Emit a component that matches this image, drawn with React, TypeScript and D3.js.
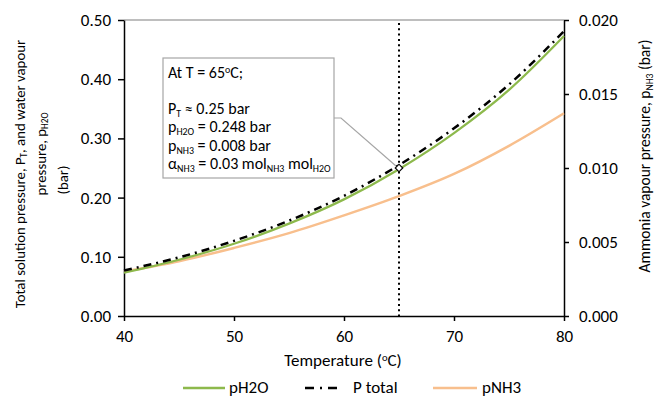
import React, { useEffect, useRef } from 'react';
import * as d3 from 'd3';

// Temperature (°C)
const temps = [40, 45, 50, 55, 60, 65, 70, 75, 80];
// water vapour pressure (bar, left axis)
const pH2O = [0.073, 0.095, 0.122, 0.156, 0.197, 0.248, 0.309, 0.382, 0.473];
// total solution pressure (bar, left axis)
const pTotal = [0.077, 0.099, 0.127, 0.161, 0.203, 0.255, 0.317, 0.391, 0.481];
// ammonia vapour pressure (bar, right axis)
const pNH3 = [0.003, 0.0037, 0.0046, 0.0056, 0.0068, 0.0081, 0.0096, 0.0115, 0.0137];

const xTicks = [40, 50, 60, 70, 80];
const leftTicks = [0, 0.1, 0.2, 0.3, 0.4, 0.5];
const rightTicks = [0, 0.005, 0.01, 0.015, 0.02];

const markT = 65;
const markP = 0.25;

type Seg = { t: string; sub?: boolean; sup?: boolean };

const FONT = "Carlito, Calibri, Lato, 'Liberation Sans', sans-serif";
const FS = 17;

const Chart = () => {
  const svgRef = useRef<SVGSVGElement>(null);

  useEffect(() => {
    const W = 654, H = 397;
    const margin = { top: 20, right: 90, bottom: 81, left: 124 };
    const width = W - margin.left - margin.right;
    const height = H - margin.top - margin.bottom;

    const root = d3.select(svgRef.current);
    root.selectAll('*').remove();
    root.attr('width', W).attr('height', H).style('font-family', FONT);

    const svg = root.append('g').attr('transform', `translate(${margin.left},${margin.top})`);

    const x = d3.scaleLinear().domain([40, 80]).range([0, width]);
    const yL = d3.scaleLinear().domain([0, 0.5]).range([height, 0]);
    const yR = d3.scaleLinear().domain([0, 0.02]).range([height, 0]);

    // writes rich text (sub/superscripts) into a text element
    const rich = (sel: any, segs: Seg[], fs: number) => {
      segs.forEach((s) => {
        const ts = sel.append('tspan').text(s.t);
        if (s.sub) ts.attr('font-size', fs * 0.62).attr('baseline-shift', '-25%');
        else if (s.sup) ts.attr('font-size', fs * 0.62).attr('baseline-shift', '50%');
      });
    };

    // top border
    svg.append('line').attr('x1', 0).attr('x2', width).attr('y1', 0).attr('y2', 0)
      .attr('stroke', '#7f7f7f').attr('stroke-width', 1.2);

    // left axis
    const gl = svg.append('g').call(
      d3.axisLeft(yL).tickValues(leftTicks).tickSize(6).tickSizeOuter(0).tickFormat(d3.format('.2f'))
    );
    // right axis
    const gr = svg.append('g').attr('transform', `translate(${width},0)`).call(
      d3.axisRight(yR).tickValues(rightTicks).tickSize(5).tickSizeOuter(0).tickFormat(d3.format('.3f'))
    );
    // bottom axis
    const gb = svg.append('g').attr('transform', `translate(0,${height})`).call(
      d3.axisBottom(x).tickValues(xTicks).tickSize(5).tickSizeOuter(0).tickFormat(d3.format('d'))
    );
    [gl, gr, gb].forEach((g) => {
      g.select('.domain').attr('stroke', '#000').attr('stroke-width', 1.5);
      g.selectAll('.tick line').attr('stroke', '#000').attr('stroke-width', 1.5);
      g.selectAll('.tick text').attr('fill', '#000').style('font-size', `${FS}px`).style('font-family', FONT);
    });
    gl.selectAll('.tick text').attr('x', -13);
    gr.selectAll('.tick text').attr('x', 15);
    gb.selectAll('.tick text').attr('y', 14);

    // dotted line at 65 °C
    svg.append('line').attr('x1', x(markT)).attr('x2', x(markT)).attr('y1', 3).attr('y2', height)
      .attr('stroke', '#000').attr('stroke-width', 2).attr('stroke-dasharray', '2,3.3');

    const lineL = d3.line<number>().x((_, i) => x(temps[i])).curve(d3.curveMonotoneX);

    // pNH3 (right axis)
    svg.append('path').datum(pNH3)
      .attr('d', lineL.y((d) => yR(d)))
      .attr('fill', 'none').attr('stroke', '#F8BF8D').attr('stroke-width', 2.5);
    // pH2O
    svg.append('path').datum(pH2O)
      .attr('d', lineL.y((d) => yL(d)))
      .attr('fill', 'none').attr('stroke', '#8DB94C').attr('stroke-width', 2.25);
    // P total
    svg.append('path').datum(pTotal)
      .attr('d', lineL.y((d) => yL(d)))
      .attr('fill', 'none').attr('stroke', '#000').attr('stroke-width', 2.5)
      .attr('stroke-dasharray', '8,5,2,5');

    // callout
    const bx = 163 - margin.left, by = 58 - margin.top, bw = 171, bh = 120;
    svg.append('polyline')
      .attr('points', `${bx + bw},${118 - margin.top} ${bx + bw + 7},${118 - margin.top} ${x(markT) - 3},${yL(markP) - 2}`)
      .attr('fill', 'none').attr('stroke', '#a6a6a6').attr('stroke-width', 1.2);
    svg.append('path')
      .attr('transform', `translate(${x(markT)},${yL(markP)}) rotate(45)`)
      .attr('d', d3.symbol().type(d3.symbolSquare).size(28)())
      .attr('fill', '#fff').attr('stroke', '#000').attr('stroke-width', 1.2);
    svg.append('rect').attr('x', bx).attr('y', by).attr('width', bw).attr('height', bh)
      .attr('fill', '#fff').attr('stroke', '#a6a6a6').attr('stroke-width', 1.2);

    const AS = 16;
    const lines: Seg[][] = [
      [{ t: 'At T = 65' }, { t: 'o', sup: true }, { t: 'C;' }],
      [],
      [{ t: 'P' }, { t: 'T', sub: true }, { t: ' ≈ 0.25 bar' }],
      [{ t: 'p' }, { t: 'H2O', sub: true }, { t: ' = 0.248 bar' }],
      [{ t: 'p' }, { t: 'NH3', sub: true }, { t: ' = 0.008 bar' }],
      [{ t: 'α' }, { t: 'NH3', sub: true }, { t: ' = 0.03 mol' }, { t: 'NH3', sub: true }, { t: ' mol' }, { t: 'H2O', sub: true }],
    ];
    lines.forEach((segs, i) => {
      if (!segs.length) return;
      const t = svg.append('text').attr('x', bx + 5).attr('y', by + 19.5 + i * 18.3)
        .style('font-size', `${AS}px`).attr('fill', '#000');
      rich(t, segs, AS);
    });

    // axis titles
    const tx = svg.append('text').attr('x', 343 - margin.left).attr('y', 366 - margin.top)
      .attr('text-anchor', 'middle').style('font-size', `${FS}px`);
    rich(tx, [{ t: 'Temperature (' }, { t: 'o', sup: true }, { t: 'C)' }], FS);

    const TS = 14.8;
    const leftTitle: [Seg[], number, number][] = [
      [[{ t: 'Total solution pressure, P' }, { t: 'T', sub: true }, { t: ', and water vapour' }], 25, 174],
      [[{ t: 'pressure, p' }, { t: 'H2O', sub: true }], 46, 154],
      [[{ t: '(bar)' }], 68, 180],
    ];
    leftTitle.forEach(([segs, lx, ly]) => {
      const t = root.append('text').attr('transform', `translate(${lx},${ly}) rotate(-90)`)
        .attr('text-anchor', 'middle').style('font-size', `${TS}px`);
      rich(t, segs, TS);
    });
    const rt = root.append('text').attr('transform', `translate(650,156) rotate(-90)`)
      .attr('text-anchor', 'middle').style('font-size', `${TS + 0.7}px`);
    rich(rt, [{ t: 'Ammonia vapour pressure, p' }, { t: 'NH3', sub: true }, { t: ' (bar)' }], TS + 0.7);

    // legend
    const legend = [
      { name: 'pH2O', color: '#8DB94C', dash: null, x0: 183, x1: 225, tx: 229 },
      { name: 'P total', color: '#000', dash: '9,6,2,6', x0: 305, x1: 342, tx: 353 },
      { name: 'pNH3', color: '#F8BF8D', dash: null, x0: 433, x1: 477, tx: 482 },
    ];
    legend.forEach((l) => {
      const ln = root.append('line').attr('x1', l.x0).attr('x2', l.x1).attr('y1', 388).attr('y2', 388)
        .attr('stroke', l.color).attr('stroke-width', 2.5);
      if (l.dash) ln.attr('stroke-dasharray', l.dash);
      root.append('text').attr('x', l.tx).attr('y', 393).style('font-size', `${FS}px`).text(l.name);
    });
  }, []);

  return <svg ref={svgRef} style={{ position: 'absolute', left: 0, top: 0 }}></svg>;
};

export default function App() {
  return <Chart />;
}
